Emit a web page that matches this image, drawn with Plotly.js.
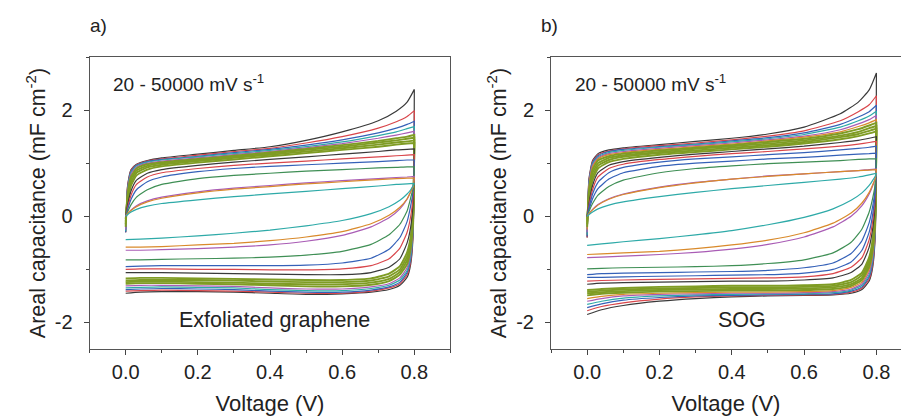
<!DOCTYPE html>
<html>
<head>
<meta charset="utf-8">
<script src="https://cdn.plot.ly/plotly-3.0.1.min.js"></script>
<style>html,body{margin:0;padding:0;background:#fff;}#chart{width:901px;height:416px;}</style>
</head>
<body>
<div id="chart"></div>
<script>
// Voltage grids (V): forward (upper) branch and reverse (lower) branch
const vUp = [0, 0.005, 0.015, 0.03, 0.06, 0.1, 0.2, 0.3, 0.4, 0.5, 0.6, 0.7, 0.75, 0.78, 0.8];
const vDown = [0.8, 0.797, 0.79, 0.78, 0.76, 0.73, 0.68, 0.6, 0.5, 0.4, 0.3, 0.2, 0.1, 0.04, 0];

// Panel a) Exfoliated graphene, slow -> fast scan rates (mF cm^-2)
const grapheneUpper = [
  [-0.3, 0.55, 0.88, 0.98, 1.05, 1.1, 1.17, 1.24, 1.31, 1.43, 1.59, 1.8, 1.98, 2.15, 2.39],
  [-0.3, 0.55, 0.87, 0.97, 1.04, 1.08, 1.15, 1.22, 1.28, 1.38, 1.5, 1.66, 1.78, 1.88, 1.99],
  [-0.3, 0.5, 0.85, 0.96, 1.03, 1.07, 1.13, 1.2, 1.26, 1.34, 1.44, 1.57, 1.66, 1.73, 1.79],
  [-0.28, 0.48, 0.83, 0.95, 1.02, 1.06, 1.12, 1.18, 1.24, 1.31, 1.4, 1.52, 1.59, 1.65, 1.69],
  [-0.25, 0.45, 0.8, 0.93, 1.0, 1.04, 1.1, 1.16, 1.22, 1.29, 1.37, 1.47, 1.53, 1.57, 1.6],
  [-0.2, 0.4, 0.75, 0.9, 0.98, 1.02, 1.08, 1.14, 1.2, 1.27, 1.34, 1.42, 1.47, 1.5, 1.53],
  [-0.15, 0.35, 0.7, 0.86, 0.95, 1.0, 1.06, 1.12, 1.18, 1.25, 1.31, 1.39, 1.43, 1.46, 1.48],
  [-0.1, 0.3, 0.64, 0.82, 0.92, 0.97, 1.04, 1.1, 1.16, 1.22, 1.28, 1.35, 1.39, 1.41, 1.43],
  [-0.05, 0.25, 0.58, 0.77, 0.88, 0.94, 1.01, 1.07, 1.13, 1.19, 1.25, 1.31, 1.35, 1.37, 1.38],
  [0, 0.2, 0.48, 0.68, 0.81, 0.88, 0.96, 1.02, 1.07, 1.12, 1.17, 1.22, 1.25, 1.26, 1.27],
  [0, 0.15, 0.4, 0.6, 0.74, 0.82, 0.9, 0.96, 1.0, 1.04, 1.08, 1.12, 1.14, 1.15, 1.16],
  [0, 0.12, 0.32, 0.5, 0.65, 0.74, 0.84, 0.9, 0.94, 0.97, 1.0, 1.03, 1.05, 1.06, 1.06],
  [0, 0.08, 0.22, 0.36, 0.5, 0.6, 0.71, 0.77, 0.81, 0.85, 0.88, 0.91, 0.92, 0.93, 0.93],
  [0, 0.05, 0.12, 0.2, 0.29, 0.36, 0.46, 0.53, 0.58, 0.63, 0.67, 0.71, 0.73, 0.74, 0.75],
  [0, 0.05, 0.11, 0.18, 0.27, 0.34, 0.44, 0.51, 0.56, 0.61, 0.65, 0.69, 0.71, 0.72, 0.72],
  [0, 0.03, 0.08, 0.13, 0.19, 0.24, 0.31, 0.37, 0.42, 0.47, 0.52, 0.57, 0.6, 0.61, 0.62]
];
const grapheneLower = [
  [2.39, -0.3, -0.9, -1.15, -1.3, -1.38, -1.43, -1.46, -1.47, -1.45, -1.43, -1.42, -1.42, -1.43, -1.45],
  [1.99, -0.25, -0.85, -1.1, -1.27, -1.35, -1.41, -1.45, -1.45, -1.43, -1.41, -1.4, -1.39, -1.4, -1.41],
  [1.79, -0.2, -0.8, -1.06, -1.24, -1.33, -1.39, -1.43, -1.43, -1.41, -1.38, -1.37, -1.36, -1.37, -1.38],
  [1.69, -0.15, -0.75, -1.02, -1.2, -1.3, -1.36, -1.4, -1.4, -1.38, -1.35, -1.34, -1.33, -1.34, -1.35],
  [1.6, -0.1, -0.68, -0.97, -1.16, -1.27, -1.33, -1.37, -1.37, -1.35, -1.32, -1.31, -1.3, -1.3, -1.31],
  [1.53, 0.0, -0.6, -0.9, -1.1, -1.22, -1.29, -1.32, -1.32, -1.3, -1.28, -1.27, -1.26, -1.26, -1.27],
  [1.48, 0.05, -0.52, -0.83, -1.05, -1.18, -1.25, -1.28, -1.28, -1.27, -1.25, -1.24, -1.23, -1.23, -1.24],
  [1.43, 0.1, -0.45, -0.76, -1.0, -1.13, -1.21, -1.24, -1.24, -1.23, -1.21, -1.2, -1.2, -1.2, -1.21],
  [1.38, 0.15, -0.38, -0.68, -0.94, -1.08, -1.17, -1.2, -1.2, -1.19, -1.18, -1.17, -1.16, -1.16, -1.17],
  [1.27, 0.3, -0.2, -0.5, -0.8, -0.96, -1.06, -1.1, -1.1, -1.09, -1.08, -1.07, -1.06, -1.06, -1.06],
  [1.16, 0.4, 0.0, -0.3, -0.6, -0.8, -0.93, -0.99, -1.01, -1.01, -1.0, -1.0, -0.99, -0.99, -1.0],
  [1.06, 0.5, 0.2, -0.1, -0.4, -0.62, -0.79, -0.88, -0.92, -0.93, -0.93, -0.93, -0.93, -0.94, -0.95],
  [0.93, 0.55, 0.35, 0.1, -0.15, -0.35, -0.53, -0.66, -0.73, -0.77, -0.79, -0.8, -0.81, -0.82, -0.82],
  [0.75, 0.58, 0.46, 0.32, 0.14, -0.03, -0.2, -0.36, -0.47, -0.54, -0.58, -0.61, -0.63, -0.64, -0.64],
  [0.72, 0.57, 0.46, 0.33, 0.17, 0.02, -0.14, -0.29, -0.39, -0.46, -0.51, -0.54, -0.57, -0.58, -0.58],
  [0.62, 0.58, 0.5, 0.42, 0.3, 0.18, 0.05, -0.08, -0.18, -0.26, -0.32, -0.37, -0.41, -0.43, -0.44]
];

// Panel b) SOG, slow -> fast scan rates (mF cm^-2)
const sogUpper = [
  [-0.4, 0.7, 1.05, 1.18, 1.25, 1.29, 1.35, 1.41, 1.47, 1.55, 1.68, 1.93, 2.15, 2.38, 2.7],
  [-0.4, 0.68, 1.03, 1.16, 1.23, 1.27, 1.33, 1.38, 1.44, 1.51, 1.61, 1.8, 1.97, 2.1, 2.27],
  [-0.38, 0.65, 1.01, 1.14, 1.22, 1.26, 1.31, 1.36, 1.42, 1.48, 1.57, 1.73, 1.87, 1.97, 2.09],
  [-0.35, 0.62, 0.99, 1.12, 1.2, 1.24, 1.3, 1.35, 1.4, 1.46, 1.54, 1.68, 1.8, 1.89, 1.98],
  [-0.3, 0.58, 0.96, 1.1, 1.18, 1.22, 1.28, 1.33, 1.38, 1.44, 1.51, 1.63, 1.74, 1.82, 1.9],
  [-0.25, 0.54, 0.93, 1.08, 1.16, 1.2, 1.26, 1.31, 1.36, 1.42, 1.49, 1.59, 1.69, 1.76, 1.82],
  [-0.2, 0.48, 0.88, 1.05, 1.13, 1.18, 1.24, 1.29, 1.34, 1.4, 1.46, 1.56, 1.64, 1.71, 1.76],
  [-0.15, 0.42, 0.82, 1.0, 1.1, 1.15, 1.21, 1.27, 1.32, 1.37, 1.43, 1.52, 1.59, 1.66, 1.7],
  [-0.1, 0.35, 0.75, 0.95, 1.06, 1.12, 1.19, 1.24, 1.29, 1.34, 1.4, 1.49, 1.55, 1.61, 1.65],
  [-0.05, 0.3, 0.68, 0.9, 1.02, 1.08, 1.16, 1.21, 1.26, 1.31, 1.37, 1.45, 1.51, 1.56, 1.6],
  [0, 0.24, 0.58, 0.82, 0.96, 1.03, 1.11, 1.17, 1.22, 1.27, 1.32, 1.39, 1.43, 1.47, 1.5],
  [0, 0.2, 0.5, 0.74, 0.9, 0.98, 1.07, 1.13, 1.18, 1.22, 1.27, 1.32, 1.36, 1.39, 1.41],
  [0, 0.16, 0.42, 0.64, 0.82, 0.92, 1.02, 1.08, 1.12, 1.16, 1.2, 1.25, 1.28, 1.3, 1.32],
  [0, 0.12, 0.33, 0.52, 0.7, 0.82, 0.94, 1.0, 1.04, 1.08, 1.11, 1.15, 1.17, 1.18, 1.19],
  [0, 0.09, 0.24, 0.4, 0.56, 0.68, 0.82, 0.9, 0.95, 0.99, 1.02, 1.05, 1.07, 1.08, 1.08],
  [0, 0.05, 0.13, 0.22, 0.33, 0.42, 0.55, 0.64, 0.7, 0.76, 0.8, 0.84, 0.86, 0.88, 0.89],
  [0, 0.05, 0.12, 0.21, 0.32, 0.41, 0.54, 0.63, 0.7, 0.75, 0.8, 0.84, 0.86, 0.87, 0.88],
  [0, 0.03, 0.08, 0.14, 0.21, 0.27, 0.37, 0.45, 0.52, 0.58, 0.64, 0.7, 0.74, 0.78, 0.81]
];
const sogLower = [
  [2.7, -0.3, -0.95, -1.22, -1.38, -1.45, -1.48, -1.49, -1.5, -1.52, -1.55, -1.6, -1.68, -1.76, -1.85],
  [2.27, -0.25, -0.9, -1.18, -1.35, -1.43, -1.47, -1.48, -1.49, -1.5, -1.52, -1.56, -1.63, -1.7, -1.78],
  [2.09, -0.2, -0.85, -1.14, -1.33, -1.41, -1.46, -1.47, -1.48, -1.49, -1.5, -1.53, -1.58, -1.65, -1.72],
  [1.98, -0.15, -0.8, -1.1, -1.3, -1.39, -1.44, -1.46, -1.46, -1.47, -1.48, -1.5, -1.54, -1.6, -1.66],
  [1.9, -0.1, -0.74, -1.05, -1.27, -1.37, -1.42, -1.44, -1.45, -1.45, -1.46, -1.47, -1.5, -1.55, -1.6],
  [1.82, -0.05, -0.68, -1.0, -1.24, -1.34, -1.4, -1.42, -1.43, -1.43, -1.44, -1.45, -1.47, -1.51, -1.55],
  [1.76, 0.0, -0.62, -0.95, -1.2, -1.31, -1.37, -1.39, -1.4, -1.4, -1.41, -1.42, -1.44, -1.46, -1.49],
  [1.7, 0.05, -0.55, -0.89, -1.16, -1.28, -1.34, -1.36, -1.37, -1.37, -1.38, -1.39, -1.41, -1.43, -1.45],
  [1.65, 0.1, -0.48, -0.83, -1.11, -1.24, -1.31, -1.33, -1.34, -1.34, -1.35, -1.36, -1.38, -1.4, -1.42],
  [1.6, 0.15, -0.42, -0.77, -1.06, -1.2, -1.28, -1.3, -1.31, -1.31, -1.32, -1.33, -1.35, -1.37, -1.39],
  [1.5, 0.3, -0.22, -0.58, -0.9, -1.06, -1.16, -1.2, -1.22, -1.22, -1.23, -1.24, -1.25, -1.26, -1.28],
  [1.41, 0.4, -0.08, -0.44, -0.78, -0.96, -1.08, -1.14, -1.16, -1.17, -1.18, -1.19, -1.2, -1.21, -1.22],
  [1.32, 0.48, 0.05, -0.3, -0.64, -0.86, -1.0, -1.07, -1.1, -1.11, -1.12, -1.13, -1.14, -1.15, -1.15],
  [1.19, 0.55, 0.2, -0.12, -0.46, -0.7, -0.88, -0.97, -1.02, -1.04, -1.05, -1.06, -1.07, -1.08, -1.1],
  [1.08, 0.62, 0.35, 0.08, -0.24, -0.49, -0.69, -0.82, -0.89, -0.93, -0.95, -0.96, -0.97, -0.98, -0.99],
  [0.89, 0.72, 0.58, 0.42, 0.2, 0.0, -0.2, -0.39, -0.53, -0.62, -0.68, -0.72, -0.75, -0.77, -0.78],
  [0.88, 0.72, 0.6, 0.45, 0.25, 0.06, -0.13, -0.31, -0.45, -0.54, -0.61, -0.66, -0.69, -0.71, -0.72],
  [0.81, 0.76, 0.68, 0.58, 0.44, 0.3, 0.14, -0.02, -0.16, -0.27, -0.35, -0.42, -0.48, -0.52, -0.55]
];

// Tick labels
const xTickVals = [0, 0.2, 0.4, 0.6, 0.8];
const xTickText = ['0.0', '0.2', '0.4', '0.6', '0.8'];
const yTickVals = [-2, 0, 2];
const yTickText = ['-2', '0', '2'];

// Line colours and widths (style only)
const K = '#3a3a3a', R = '#d9464b', B = '#3561b8', C = '#2eaaa8', M = '#a95cb5',
      O = '#d98a2b', G = '#7f9c24', G2 = '#3f8f55';
const grapheneColors = [K, R, B, C, M, G, G, G, G, K, R, B, G2, M, O, C];
const sogColors = [K, R, B, C, M, O, G, G, G, G, K, R, B, B, G2, M, O, C];

const traces = [];
function addPanel(upper, lower, colors, xa, ya) {
  for (let i = 0; i < upper.length; i++) {
    traces.push({
      x: vUp.concat(vDown),
      y: upper[i].concat(lower[i]),
      xaxis: xa, yaxis: ya,
      type: 'scatter', mode: 'lines',
      line: {color: colors[i], width: colors[i] === G ? 1.9 : 1.2, shape: 'spline', smoothing: 0.5},
      hoverinfo: 'skip', showlegend: false
    });
  }
}
addPanel(grapheneUpper, grapheneLower, grapheneColors, 'x', 'y');
addPanel(sogUpper, sogLower, sogColors, 'x2', 'y2');

const FONT = 'Liberation Sans, Arial, sans-serif';
const TXT = '#222222';
const W = 901, H = 416;
const px = v => v / W, py = v => 1 - v / H;

function xAxis(domain, range, anchor) {
  return {
    anchor: anchor, domain: domain, range: range,
    tickmode: 'array', tickvals: xTickVals, ticktext: xTickText,
    ticks: 'outside', ticklen: 5, tickwidth: 1, tickcolor: '#444',
    minor: {tickmode: 'linear', tick0: 0, dtick: 0.1, ticks: 'outside', ticklen: 3, tickcolor: '#444'},
    showline: true, linecolor: '#555', linewidth: 1, mirror: true,
    showgrid: false, zeroline: false,
    tickfont: {family: FONT, size: 20, color: TXT},
    title: {text: 'Voltage (V)', font: {family: FONT, size: 22, color: TXT}, standoff: 16},
    automargin: false, fixedrange: true
  };
}
function yAxis(anchor, mirror) {
  return {
    anchor: anchor, domain: [py(349), py(57)], range: [-2.5, 3],
    tickmode: 'array', tickvals: yTickVals, ticktext: yTickText,
    ticks: 'outside', ticklen: 5, tickwidth: 1, tickcolor: '#444',
    minor: {tickmode: 'linear', tick0: 0, dtick: 1, ticks: 'outside', ticklen: 3, tickcolor: '#444'},
    ticklabelstandoff: 7,
    showline: true, linecolor: '#555', linewidth: 1, mirror: mirror,
    showgrid: false, zeroline: false,
    tickfont: {family: FONT, size: 20, color: TXT},
    title: {text: 'Areal capacitance (mF cm<sup>-2</sup>)', font: {family: FONT, size: 21.5, color: TXT}, standoff: 3},
    automargin: false, fixedrange: true
  };
}

const layout = {
  width: W, height: H,
  margin: {l: 0, r: 0, t: 0, b: 0, pad: 0},
  paper_bgcolor: '#ffffff', plot_bgcolor: '#ffffff',
  showlegend: false,
  xaxis: xAxis([px(89.6), px(450.4)], [-0.1, 0.9], 'y'),
  yaxis: yAxis('x', true),
  xaxis2: xAxis([px(551), 1], [-0.1, 0.868], 'y2'),
  yaxis2: yAxis('x2', false),
  annotations: [
    {text: 'a)', x: px(98), y: py(25), xref: 'paper', yref: 'paper', xanchor: 'center', yanchor: 'middle',
     showarrow: false, font: {family: FONT, size: 19, color: TXT}},
    {text: 'b)', x: px(549), y: py(25), xref: 'paper', yref: 'paper', xanchor: 'center', yanchor: 'middle',
     showarrow: false, font: {family: FONT, size: 19, color: TXT}},
    {text: '20 - 50000 mV s<sup>-1</sup>', x: px(111), y: py(83), xref: 'paper', yref: 'paper',
     xanchor: 'left', yanchor: 'middle', showarrow: false, font: {family: FONT, size: 19, color: TXT}},
    {text: '20 - 50000 mV s<sup>-1</sup>', x: px(573), y: py(83), xref: 'paper', yref: 'paper',
     xanchor: 'left', yanchor: 'middle', showarrow: false, font: {family: FONT, size: 19, color: TXT}},
    {text: 'Exfoliated graphene', x: px(274), y: py(320), xref: 'paper', yref: 'paper',
     xanchor: 'center', yanchor: 'middle', showarrow: false, font: {family: FONT, size: 21.5, color: TXT}},
    {text: 'SOG', x: px(742), y: py(320), xref: 'paper', yref: 'paper',
     xanchor: 'center', yanchor: 'middle', showarrow: false, font: {family: FONT, size: 21.5, color: TXT}}
  ]
};

Plotly.newPlot('chart', traces, layout, {staticPlot: true, displayModeBar: false});
</script>
</body>
</html>
